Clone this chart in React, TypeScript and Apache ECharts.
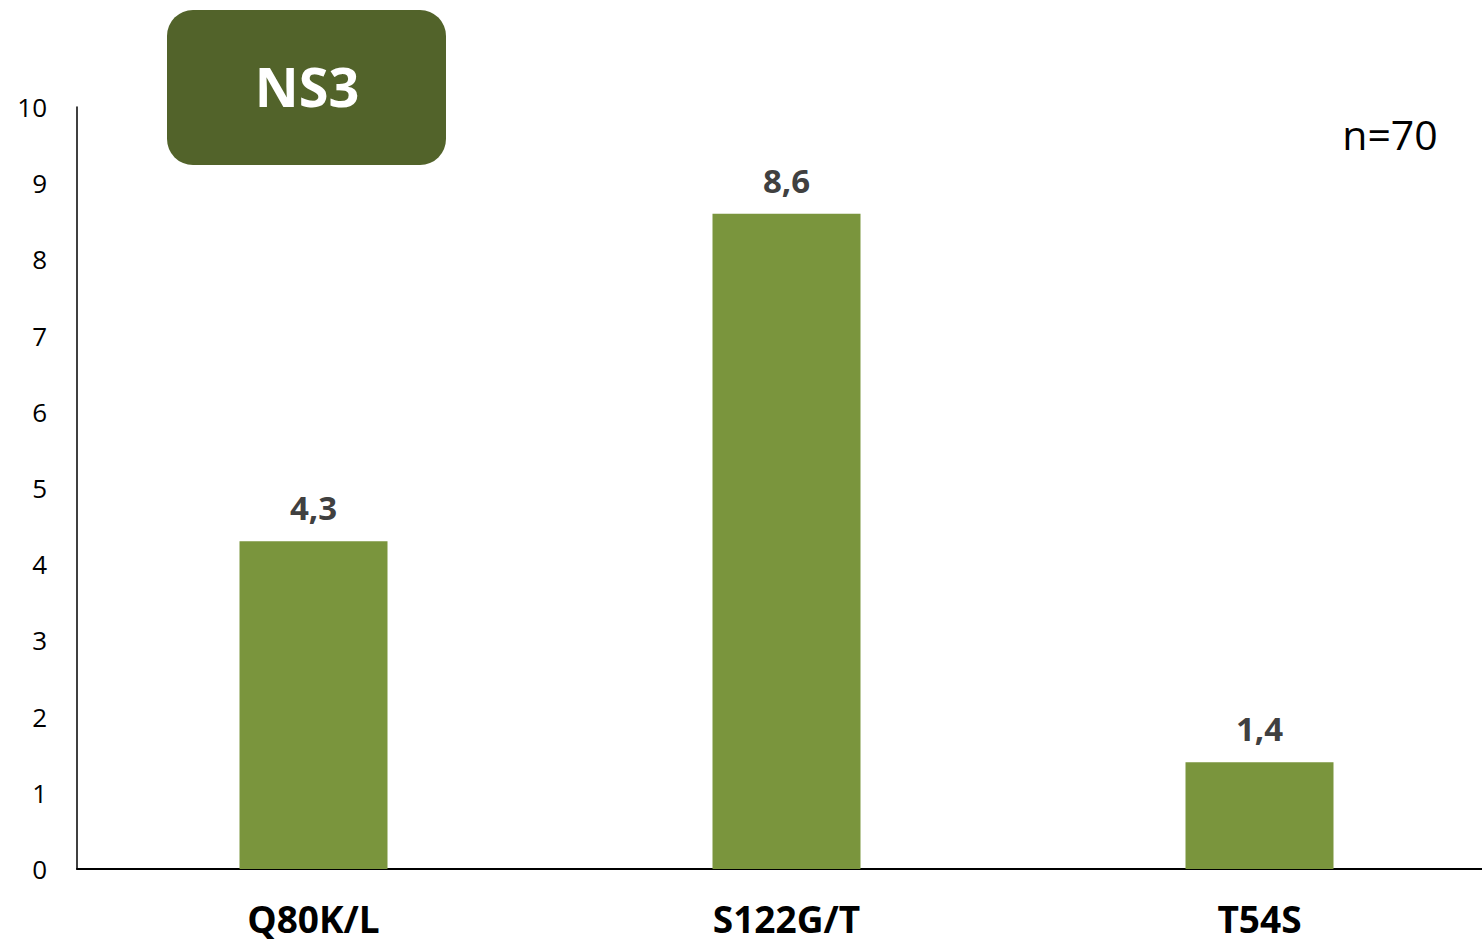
import React, { useEffect, useRef } from "react";
import * as echarts from "echarts";

const categories = ["Q80K/L", "S122G/T", "T54S"];
const values = [4.3, 8.6, 1.4];
const yTicks = [0, 10, 1];
const title = "NS3";
const note = "n=70";

const FONT = "'Open Sans', 'Noto Sans', sans-serif";

export default function App() {
  const ref = useRef<HTMLDivElement>(null);
  useEffect(() => {
    if (!ref.current) return;
    const chart = echarts.init(ref.current, undefined, { renderer: "svg" });
    chart.setOption({
      animation: false,
      backgroundColor: "#ffffff",
      grid: { left: 77, right: 0, top: 107, bottom: 75, containLabel: false },
      xAxis: {
        type: "category",
        data: categories,
        axisLine: { show: true, lineStyle: { color: "#000", width: 2 } },
        axisTick: { show: false },
        axisLabel: {
          margin: 34,
          color: "#000",
          fontFamily: FONT,
          fontWeight: "bold",
          fontSize: 37,
          lineHeight: 30,
        },
      },
      yAxis: {
        type: "value",
        min: yTicks[0],
        max: yTicks[1],
        interval: yTicks[2],
        axisLine: { show: true, lineStyle: { color: "#000", width: 1.5 } },
        axisTick: { show: false },
        splitLine: { show: false },
        axisLabel: {
          margin: 30,
          color: "#000",
          fontFamily: FONT,
          fontSize: 26,
        },
      },
      series: [
        {
          type: "bar",
          data: values,
          barWidth: 148,
          itemStyle: { color: "#7a953d" },
          label: {
            show: true,
            position: "top",
            distance: 17,
            color: "#404040",
            fontFamily: FONT,
            fontWeight: "bold",
            fontSize: 33,
            formatter: (p: any) => String(p.value).replace(".", ","),
          },
        },
      ],
      graphic: [
        {
          type: "rect",
          shape: { x: 167, y: 10, width: 279, height: 155, r: 26 },
          style: { fill: "#52632a" },
        },
        {
          type: "text",
          x: 307,
          y: 86,
          style: {
            text: title,
            fill: "#ffffff",
            font: `bold 54px ${FONT}`,
            align: "center",
            verticalAlign: "middle",
          },
        },
        {
          type: "text",
          x: 1390,
          y: 134,
          style: {
            text: note,
            fill: "#000000",
            font: `41px ${FONT}`,
            align: "center",
            verticalAlign: "middle",
          },
        },
      ],
    });
    return () => chart.dispose();
  }, []);
  return (
    <div
      style={{
        position: "fixed",
        left: 0,
        top: 0,
        width: 1482,
        height: 944,
        overflow: "hidden",
      }}
    >
      <div ref={ref} style={{ width: 1496, height: 944 }} />
    </div>
  );
}
